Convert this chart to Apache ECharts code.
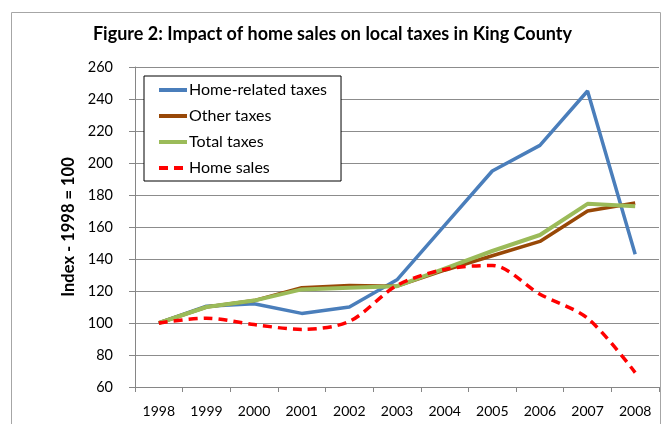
<!DOCTYPE html>
<html>
<head>
<meta charset="utf-8">
<script src="https://cdn.jsdelivr.net/npm/echarts@6/dist/echarts.min.js"></script>
<style>
  html, body { margin: 0; padding: 0; background: #fff; }
  #chart { width: 665px; height: 424px; }
</style>
</head>
<body>
<div id="chart"></div>
<script>
var years = ['1998', '1999', '2000', '2001', '2002', '2003', '2004', '2005', '2006', '2007', '2008'];
var homeRelated = [100, 110.5, 112, 106, 110, 127, 161, 195, 211, 245, 143];
var otherTaxes = [100, 110, 114, 122, 123.5, 123, 133, 142, 151, 170, 175];
var totalTaxes = [100, 110, 114, 121, 122, 123, 134, 145, 155, 174.5, 173];
var homeSales = [100, 103, 99, 96, 101, 123.5, 133.5, 136, 118, 103, 69];

var FONT = 'Lato';

function LoadChart() {
    var chart = echarts.init(document.getElementById('chart'));

    var option = {
        animation: false,
        textStyle: { fontFamily: FONT },
        title: {
            text: 'Figure 2: Impact of home sales on local taxes in King County',
            left: 'center',
            top: 20,
            textStyle: { fontFamily: FONT, fontSize: 18, fontWeight: 'bold', color: '#000' }
        },
        graphic: [
            {
                type: 'rect',
                shape: { x: 11.5, y: 12.5, width: 649, height: 430 },
                style: { fill: 'none', stroke: '#a6a6a6', lineWidth: 1 },
                silent: true
            }
        ],
        legend: {
            orient: 'vertical',
            left: 144,
            top: 76,
            padding: [6, 14, 5, 13],
            itemWidth: 28,
            itemHeight: 14,
            itemGap: 10,
            borderColor: '#000',
            borderWidth: 1,
            backgroundColor: '#fff',
            itemStyle: { opacity: 0 },
            lineStyle: { width: 4 },
            textStyle: { fontFamily: FONT, fontSize: 16, color: '#000', padding: [0, 0, 0, -3] },
            data: ['Home-related taxes', 'Other taxes', 'Total taxes', 'Home sales']
        },
        grid: { left: 135, right: 6, top: 67, bottom: 37 },
        xAxis: {
            type: 'category',
            data: years,
            boundaryGap: true,
            axisLine: { lineStyle: { color: '#868686', width: 1 } },
            axisTick: { show: true, length: 5, lineStyle: { color: '#868686' } },
            axisLabel: { color: '#000', fontSize: 14, margin: 17, fontFamily: FONT }
        },
        yAxis: {
            type: 'value',
            min: 60,
            max: 260,
            interval: 20,
            name: 'Index - 1998 = 100',
            nameLocation: 'middle',
            nameGap: 57,
            nameTextStyle: { fontFamily: FONT, fontSize: 16.5, fontWeight: 'bold', color: '#000' },
            axisLine: { show: true, lineStyle: { color: '#868686', width: 1 } },
            axisTick: { show: true, length: 6, lineStyle: { color: '#868686' } },
            axisLabel: { color: '#000', fontSize: 14.5, margin: 22, fontFamily: FONT },
            splitLine: { lineStyle: { color: '#8c8c8c', width: 1 } }
        },
        series: [
            {
                name: 'Home-related taxes',
                type: 'line',
                symbol: 'none',
                data: homeRelated,
                itemStyle: { color: '#4A7EBB' },
                lineStyle: { color: '#4A7EBB', width: 3.5 }
            },
            {
                name: 'Other taxes',
                type: 'line',
                symbol: 'none',
                data: otherTaxes,
                itemStyle: { color: '#984807' },
                lineStyle: { color: '#984807', width: 3.5 }
            },
            {
                name: 'Total taxes',
                type: 'line',
                symbol: 'none',
                data: totalTaxes,
                itemStyle: { color: '#9BBB59' },
                lineStyle: { color: '#9BBB59', width: 4 }
            },
            {
                name: 'Home sales',
                type: 'line',
                symbol: 'none',
                smooth: 0.3,
                data: homeSales,
                itemStyle: { color: '#FF0000' },
                lineStyle: { color: '#FF0000', width: 3.5, type: [9, 6] }
            }
        ]
    };

    chart.setOption(option, true);
}

LoadChart();
</script>
</body>
</html>
